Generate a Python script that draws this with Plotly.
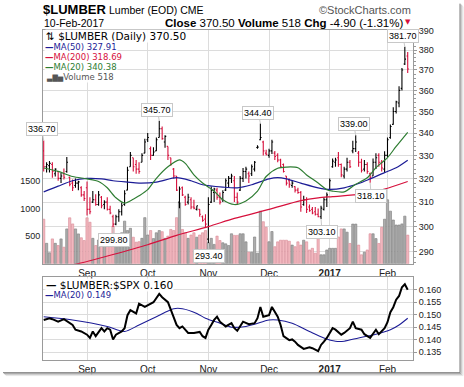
import math
import pandas as pd
import plotly.graph_objects as go

# ---------------- data ----------------
holidays = ["2016-09-05", "2016-11-24", "2016-12-26", "2017-01-02", "2017-01-16"]
dates = [d for d in pd.bdate_range("2016-08-11", "2017-02-10")
         if d.strftime("%Y-%m-%d") not in holidays]

opens = [332, 325, 325.5, 326, 322, 323, 320, 322, 323, 320.5, 318, 317, 318, 316, 313,
         316, 307, 310, 311, 309, 312, 309, 310, 307, 304, 301, 304, 306, 309, 315, 325, 329, 326, 324, 327, 331,
         337, 333, 330, 332, 338, 342, 336, 334, 329, 324, 321, 310, 316, 312, 310, 311, 308, 307, 307, 304, 303,
         295, 310, 314, 315, 312, 311, 315, 318, 320, 319, 312, 315, 320, 323, 322, 322, 324, 333.5, 337, 336, 331,
         330, 332, 331, 330, 328, 326, 321, 319, 317, 316.5, 315, 314, 309, 311, 308, 307, 306, 305, 304, 307, 311,
         315, 325, 327, 329, 326, 321, 324, 327, 332, 333, 331, 327, 324, 326, 322, 321, 327, 330, 327, 324,
         330, 338, 344, 350, 354, 361, 373, 377]
highs = [336.7, 327, 327.5, 327, 324.4, 323, 322.3, 324.3, 329.3, 320.8, 319.5, 320, 319, 316.7, 314.6,
         318.7, 312, 314.6, 313.3, 314.6, 312.5, 310.8, 312, 308.5, 304.8, 304.8, 307, 309.8, 315, 325, 331.5, 329, 328, 327, 331, 337.5,
         340, 334, 333.6, 338, 345.7, 343, 339, 334, 329, 324.5, 321, 316.5, 316.5, 312.6, 313.5, 312, 311, 308.5, 307, 304.5, 305,
         312, 316.5, 316, 316, 314, 315, 320, 321, 322, 321, 314, 321, 324.5, 325, 323, 326, 327.5, 334.5, 344.4, 336.5, 332.5,
         333, 337, 332, 331, 328.5, 326.5, 321, 320, 319, 316.7, 316, 314.6, 312.6, 312, 309, 308, 308, 307.4, 308.5, 312, 314,
         320, 328.6, 329, 331.5, 326.5, 325, 329, 328, 336.5, 339, 332, 328.5, 328, 327, 322.5, 328.6, 331, 331, 328, 331.8,
         338, 344, 352, 355, 362, 371, 381.7, 379]
lows = [323, 322.5, 322.5, 320.3, 320.8, 319, 318, 319.5, 322.4, 316.7, 314.6, 316, 315, 312.2, 310.5,
        304.5, 305, 309.6, 308.5, 308.5, 307.5, 307, 306.5, 305, 299.8, 300.5, 302, 304.5, 308.5, 315, 325, 323, 322, 322, 327, 331,
        336, 328, 329.9, 332, 338, 337, 333.4, 328, 325.5, 320, 314.6, 307.5, 312.5, 308.5, 309, 307, 307, 306.5, 304, 302, 299.5,
        293.4, 309.6, 310, 311, 309, 310, 314.6, 316, 318, 310, 309, 314.6, 318.5, 320, 318, 321, 323, 333, 336.8, 330, 330,
        329, 330.6, 328, 327, 324.6, 322.5, 317, 316, 316, 314, 313.5, 306, 308.5, 305.5, 306, 305, 304.5, 303.8, 303.1, 306.5, 308,
        314.6, 324.6, 325, 325, 320.5, 320, 323, 324.5, 331, 331.5, 325, 322.5, 323, 322, 318.1, 321, 324, 325, 323, 322.6,
        329.3, 337.5, 343.8, 349, 352, 360, 372.5, 368.5]
closes = [325, 326, 326.5, 323, 324, 320, 321, 320.5, 327, 317.5, 316, 318, 318.5, 313, 311.5,
          307, 306, 311, 309, 313, 308.5, 310, 307, 305.5, 301, 304, 306, 308.5, 313.5, 323.5, 330, 325, 324, 323, 330, 336,
          338, 330, 331.5, 337, 342, 337.5, 338.5, 330, 326, 321, 315, 315.5, 313, 309, 312, 308, 307.5, 308.5, 305, 302.5, 301,
          309, 315, 315.5, 312, 310, 314, 319, 320, 321, 312, 310, 320, 323, 324, 321, 325, 327, 333.7, 338, 332, 330.5,
          332, 336, 329.5, 328, 325, 323, 318, 317.5, 318, 315, 314, 308, 311, 307, 306.5, 305.5, 305, 304, 307.5, 311, 313,
          319, 327.5, 328, 326, 321.5, 324, 327, 325, 333, 336, 327, 323.5, 326, 323, 320.5, 327, 329, 327, 324.5, 330,
          337, 343, 350, 354.5, 360, 370, 375.4, 370.5]
volumes = [805, 370, 200, 450, 370, 330, 450, 300, 630, 830, 720, 630, 540, 470, 420,
           830, 750, 460, 330, 430, 400, 500, 470, 520, 680, 470, 430, 560, 770, 600, 640, 480, 390, 400, 460, 833,
           520, 600, 455, 560, 600, 580, 460, 500, 620, 600, 833, 1100, 620, 560, 460, 520, 560, 480, 520, 560, 600,
           380, 460, 350, 500, 420, 380, 360, 330, 542, 513, 513, 542, 542, 396, 210, 210, 484, 192, 950, 760, 659,
           398, 583, 309, 396, 426, 426, 426, 408, 338, 309, 396, 338, 426, 396, 250, 280, 192, 455, 163, 163, 250,
           280, 280, 280, 484, 630, 630, 571, 367, 717, 717, 338, 163, 210, 250, 542, 542, 455, 367, 659, 805,
           1155, 950, 790, 700, 700, 720, 860, 518]

ma20_idx = [0, 5, 10, 15, 19, 22, 25, 28, 31, 33, 36, 39, 43, 47, 49, 52, 55, 59, 62, 66,
            70, 74, 77, 81, 84, 88, 91, 95, 98, 100, 104, 108, 112, 115, 119, 122, 126]
ma20_val = [324.5, 323, 320.8, 319.8, 318.7, 316, 311.8, 309.6, 311.2, 312.6, 315.2, 320, 325, 328, 326.5, 321.5, 318, 314.6, 311, 309,
            310.5, 314.6, 320.8, 324.4, 324.9, 324.6, 321.5, 318, 315.2, 314.6, 314.3, 317.5, 320.3, 324.6, 329, 334, 340.38]
ma50_idx = [0, 5, 10, 15, 20, 24, 29, 33, 39, 46, 51, 55, 62, 67, 72, 78, 81, 84, 89, 95, 99, 104, 109, 113, 118, 122, 126]
ma50_val = [314.3, 316.7, 319, 320, 319.8, 319, 318.4, 318, 318.4, 320.3, 319, 317.3, 316.3, 316, 317.3, 319.8, 320.3, 319.8, 318, 316,
            315.3, 316, 317.8, 319.8, 322.5, 324.6, 327.91]
ma200_idx = [0, 12, 24, 36, 46, 57, 66, 78, 89, 95, 100, 110, 118, 126]
ma200_val = [283, 285.5, 289, 292.8, 296.5, 300, 303.3, 307, 310.6, 311.8, 312.3, 313.3, 315.5, 318.69]

ratio_idx = [0, 2, 3, 5, 7, 9, 10, 11, 13, 15, 16, 17, 18, 20, 21, 22, 23, 24, 25, 27, 28, 29, 30, 32, 33, 35, 37, 38, 40, 41,
             43, 44, 46, 47, 48, 50, 52, 54, 55, 56, 57, 58, 59, 60, 61, 63, 65, 66, 67, 69, 71, 73, 74, 75, 76, 78, 79, 81, 82, 83,
             85, 86, 87, 88, 90, 92, 93, 95, 96, 97, 98, 100, 101, 103, 104, 106, 107, 108, 110, 111, 113, 115, 116, 118, 119, 120,
             121, 122, 123, 124, 125, 126]
ratio_val = [0.1479, 0.1486, 0.1482, 0.1472, 0.1482, 0.1466, 0.1459, 0.1440, 0.1433, 0.1420, 0.1407, 0.1433, 0.1414, 0.1446,
             0.1433, 0.1446, 0.1440, 0.1401, 0.1420, 0.1433, 0.1446, 0.1498, 0.1518, 0.1505, 0.1544, 0.1531, 0.1544, 0.1550,
             0.1583, 0.1570, 0.1550, 0.1518, 0.1459, 0.1446, 0.1453, 0.1427, 0.1427, 0.1431, 0.1414, 0.1407, 0.1440, 0.1459,
             0.1479, 0.1492, 0.1472, 0.1453, 0.1466, 0.1446, 0.1436, 0.1472, 0.1462, 0.1466, 0.1486, 0.1531, 0.1492, 0.1498,
             0.1531, 0.1492, 0.1459, 0.1414, 0.1398, 0.1401, 0.1392, 0.1379, 0.1363, 0.1370, 0.1366, 0.1354, 0.1379, 0.1392,
             0.1407, 0.1446, 0.1440, 0.1420, 0.1427, 0.1446, 0.1472, 0.1446, 0.1440, 0.1422, 0.1407, 0.1440, 0.1422, 0.1446,
             0.1470, 0.1510, 0.1530, 0.1560, 0.1575, 0.1610, 0.1622, 0.1600]
rma_idx = [0, 10, 22, 28, 33, 39, 45, 48, 53, 56, 61, 65, 70, 73, 78, 81, 86, 92, 97, 101, 104, 109, 115, 120, 123, 126]
rma_val = [0.1492, 0.1479, 0.1453, 0.1433, 0.1459, 0.1492, 0.1524, 0.1524, 0.1505, 0.1486, 0.1466, 0.1450, 0.1453,
           0.1462, 0.1479, 0.1479, 0.1466, 0.1433, 0.1407, 0.1394, 0.1394, 0.1407, 0.1422, 0.1440, 0.1459, 0.1486]

month_labels = ["Sep", "Oct", "Nov", "Dec", "<b>2017</b>", "Feb"]
price_ticks = [290, 300, 310, 320, 330, 340, 350, 360, 370, 380, 390]
vol_ticks = [500, 1000, 1500]
ratio_ticks = [0.135, 0.140, 0.145, 0.150, 0.155, 0.160]
peak_idx = [0, 40, 75, 108, 125]
trough_idx = [24, 57, 96, 113]

# ---------------- derived ----------------
n = len(closes)
x = list(range(n))
month_idx = []
for i in range(1, n):
    if dates[i].month != dates[i - 1].month:
        month_idx.append(i)

up = [i > 0 and closes[i] >= closes[i - 1] for i in range(n)]
RED = "#d6103c"
BLUE = "#1c1c96"
GREEN = "#2e7d32"
GRID = "#dcdcdc"
AXL = "#9a9a9a"

W, H = 464, 387
ML, MR, MT, MB = 43, 51, 30, 19
PW, PH = W - ML - MR, H - MT - MB


def px(v):
    return (v - ML) / PW


def py(v):
    return (H - MB - v) / PH


fig = go.Figure()

fig.add_trace(go.Bar(
    x=x, y=volumes, width=0.78, xaxis="x", yaxis="y",
    marker=dict(color=["#adadad" if u else "#f2b8bf" for u in up],
                line=dict(color=["#7c7c7c" if u else "#d88a95" for u in up], width=0.6)),
    hoverinfo="skip", showlegend=False))

for flag, col in ((True, "#000000"), (False, RED)):
    sel = [i for i in range(n) if up[i] == flag]
    fig.add_trace(go.Ohlc(
        x=sel, open=[opens[i] for i in sel], high=[highs[i] for i in sel],
        low=[lows[i] for i in sel], close=[closes[i] for i in sel],
        increasing=dict(line=dict(color=col, width=1.1)),
        decreasing=dict(line=dict(color=col, width=1.1)),
        tickwidth=0.42, xaxis="x", yaxis="y2", hoverinfo="skip", showlegend=False))

for idx, val, col in ((ma200_idx, ma200_val, RED), (ma50_idx, ma50_val, BLUE), (ma20_idx, ma20_val, GREEN)):
    fig.add_trace(go.Scatter(x=idx, y=val, mode="lines", xaxis="x", yaxis="y2",
                             line=dict(color=col, width=1.2, shape="spline", smoothing=0.8),
                             hoverinfo="skip", showlegend=False))

fig.add_trace(go.Scatter(x=rma_idx, y=rma_val, mode="lines", xaxis="x2", yaxis="y3",
                         line=dict(color=BLUE, width=1.1, shape="spline", smoothing=0.8),
                         hoverinfo="skip", showlegend=False))
fig.add_trace(go.Scatter(x=ratio_idx, y=ratio_val, mode="lines", xaxis="x2", yaxis="y3",
                         line=dict(color="#000000", width=2),
                         hoverinfo="skip", showlegend=False))

xr = [(ML - 43.7) / 2.889, (W - MR - 43.7) / 2.889]
top_main, bot_main, top_low = 30, 269.5, 283
p_top = 290 * math.exp((257.3 - top_main) / 765)
p_bot = 290 * math.exp((257.3 - bot_main) / 765)
v_max = (bot_main - top_main) / 85.2 * 1500
r_top = 0.160 - (top_low - 296) * 0.000390625
r_bot = 0.160 - (H - MB - 296) * 0.000390625

tickfont = dict(family="Liberation Sans", size=9, color="#222")
xfont = dict(family="Liberation Sans", size=10, color="#222")

fig.update_layout(
    width=W, height=H, margin=dict(l=ML, r=MR, t=MT, b=MB),
    paper_bgcolor="white", plot_bgcolor="white", showlegend=False,
    xaxis=dict(domain=[0, 1], anchor="y", range=xr, autorange=False, tickmode="array",
               tickvals=month_idx, ticktext=month_labels, showgrid=True, gridcolor=GRID,
               gridwidth=1, zeroline=False, showline=True, mirror=True, linecolor=AXL,
               linewidth=1, ticks="", tickfont=xfont, rangeslider=dict(visible=False)),
    yaxis=dict(domain=[py(bot_main), 1], range=[0, v_max], autorange=False, side="left",
               tickmode="array", tickvals=vol_ticks, showgrid=False, zeroline=False,
               showline=True, mirror=True, linecolor=AXL, ticks="", tickfont=tickfont),
    yaxis2=dict(overlaying="y", side="right", type="log", autorange=False,
                range=[math.log10(p_bot), math.log10(p_top)], tickmode="array",
                tickvals=price_ticks, showgrid=True, gridcolor=GRID, zeroline=False,
                showline=False, ticks="outside", ticklen=3, tickcolor=AXL, tickfont=tickfont,
                minor=dict(tickmode="array", tickvals=list(range(286, 391, 2)), ticks="outside",
                           ticklen=2, tickcolor=AXL, showgrid=False)),
    xaxis2=dict(domain=[0, 1], anchor="y3", range=xr, autorange=False, tickmode="array",
                tickvals=month_idx, ticktext=month_labels, showgrid=True, gridcolor=GRID,
                zeroline=False, showline=True, mirror=True, linecolor=AXL, ticks="",
                tickfont=xfont, rangeslider=dict(visible=False)),
    yaxis3=dict(domain=[0, py(top_low)], range=[r_bot, r_top], autorange=False, side="right",
                tickmode="array", tickvals=ratio_ticks, tickformat=".3f", showgrid=True,
                gridcolor=GRID, zeroline=False, showline=True, mirror=True, linecolor=AXL,
                ticks="outside", ticklen=3, tickcolor=AXL, tickfont=tickfont),
)

ann = []


def text(xp, yp, s, size, color="#000", family="DejaVu Sans", xanchor="left", bg=None):
    d = dict(xref="paper", yref="paper", x=px(xp), y=py(yp), text=s, showarrow=False,
             xanchor=xanchor, yanchor="middle", font=dict(family=family, size=size, color=color))
    if bg:
        d.update(bgcolor=bg, borderpad=0)
    ann.append(d)


# header
text(41, 9, "<b>$LUMBER</b>", 13, family="Liberation Sans")
text(107, 10, "Lumber (EOD) CME", 10.5, family="Liberation Sans")
text(413, 10, "©StockCharts.com", 11, color="#555", family="Liberation Sans", xanchor="right")
text(42, 22.5, "10-Feb-2017", 10.5, family="Liberation Sans")
text(405, 22.5, "<b>Close</b> 370.50 <b>Volume</b> 518 <b>Chg</b> -4.90 (-1.31%)", 11.5,
     family="Liberation Sans", xanchor="right")
text(413, 22, "▼", 7, color=RED, xanchor="right")

# main legend
bgw = "rgba(255,255,255,0.9)"
text(45, 36.5, "⇅ $LUMBER (Daily) 370.50", 10.5, bg=bgw)
text(44, 47, "<b>—</b>MA(50) 327.91", 8.5, color=BLUE, bg=bgw)
text(44, 57.3, "<b>—</b>MA(200) 318.69", 8.5, color=RED, bg=bgw)
text(44, 67.7, "<b>—</b>MA(20) 340.38", 8.5, color=GREEN, bg=bgw)
text(45, 78.3, "<span style='font-size:7px'>▃▇▅</span>Volume 518", 8.5, color="#555", bg=bgw)
# lower legend
text(45, 290.7, "<b>—</b> $LUMBER:$SPX 0.160", 10.5, bg=bgw)
text(44, 301.7, "<b>—</b>MA(20) 0.149", 8.5, color=BLUE, bg=bgw)

# price labels
for i in peak_idx:
    ann.append(dict(xref="x", yref="y2", x=i, y=math.log10(highs[i]), text=f"{highs[i]:.2f}",
                    showarrow=True, ax=-2, ay=-11, arrowhead=0, arrowwidth=1, arrowcolor="#c8c8c8",
                    standoff=0, bgcolor="white", bordercolor="#c8c8c8", borderwidth=1, borderpad=1,
                    font=dict(family="Liberation Sans", size=9, color="#000")))
for i in trough_idx:
    ann.append(dict(xref="x", yref="y2", x=i, y=math.log10(lows[i]), text=f"{lows[i]:.2f}",
                    showarrow=True, ax=1, ay=13, arrowhead=0, arrowwidth=1, arrowcolor="#c8c8c8",
                    standoff=0, bgcolor="white", bordercolor="#c8c8c8", borderwidth=1, borderpad=1,
                    font=dict(family="Liberation Sans", size=9, color="#000")))

fig.update_layout(annotations=ann)

# frame shadow
shapes = []
for k, c in enumerate(["#7a7a7a", "#a0a0a0", "#c8c8c8", "#e6e6e6"]):
    shapes.append(dict(type="line", xref="paper", yref="paper", x0=px(460 + k), x1=px(460 + k),
                       y0=py(3 + k), y1=py(381 + k), line=dict(color=c, width=1)))
    shapes.append(dict(type="line", xref="paper", yref="paper", x0=px(3 + k), x1=px(460 + k),
                       y0=py(381 + k), y1=py(381 + k), line=dict(color=c, width=1)))
fig.update_layout(shapes=shapes)

fig.write_html("out.html", config={"displayModeBar": False, "staticPlot": True},
               post_script="document.body.style.margin='0px';document.body.style.overflow='hidden';")
